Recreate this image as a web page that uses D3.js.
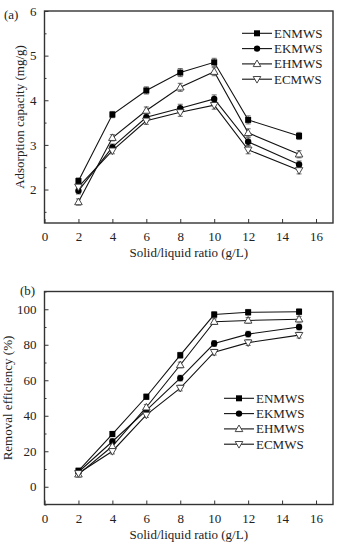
<!DOCTYPE html>
<html lang="en">
<head>
<meta charset="UTF-8">
<title>Solid/liquid ratio</title>
<script src="https://cdnjs.cloudflare.com/ajax/libs/d3/7.8.5/d3.min.js"></script>
<style>
  body { margin: 0; background: #fff; }
  svg text { font-family: "Liberation Serif", "Times New Roman", Times, serif; fill: #222; }
</style>
</head>
<body>
<div id="chart"></div>
<script>
// x values (g/L)
var ratios = [2, 4, 6, 8, 10, 12, 15];
var seriesNames = ['ENMWS', 'EKMWS', 'EHMWS', 'ECMWS'];
var seriesMarkers = ['square', 'circle', 'triUp', 'triDown'];

// panel (a) adsorption capacity (mg/g)
var capENMWS = [2.19, 3.68, 4.22, 4.62, 4.85, 3.56, 3.20];
var capEKMWS = [1.97, 2.95, 3.62, 3.82, 4.03, 3.07, 2.56];
var capEHMWS = [1.72, 3.16, 3.77, 4.29, 4.64, 3.27, 2.79];
var capECMWS = [2.06, 2.87, 3.54, 3.73, 3.89, 2.89, 2.43];
var capErr = [0.07, 0.07, 0.08, 0.09, 0.09, 0.09, 0.08];

// panel (b) removal efficiency (%)
var remENMWS = [9.0, 29.7, 50.7, 74.1, 97.0, 98.3, 98.6];
var remEKMWS = [8.3, 25.5, 43.0, 61.2, 80.7, 86.0, 90.0];
var remEHMWS = [7.0, 22.8, 44.8, 68.6, 93.0, 93.7, 94.4];
var remECMWS = [7.6, 20.0, 40.5, 55.6, 75.8, 81.2, 85.4];
var remErr = [1.5, 1.5, 1.5, 1.6, 1.6, 1.6, 1.6];

var xTicks = [0, 2, 4, 6, 8, 10, 12, 14, 16];
var capTicks = [2, 3, 4, 5, 6];
var capMinor = [1.5, 2.5, 3.5, 4.5, 5.5];
var remTicks = [0, 20, 40, 60, 80, 100];
var remMinor = [-10, 10, 30, 50, 70, 90, 110];

var svg = d3.select('#chart').append('svg')
  .attr('width', 343).attr('height', 550);

function marker(g, type, x, y) {
  if (type === 'square') {
    g.append('rect').attr('x', x - 3).attr('y', y - 3)
      .attr('width', 6).attr('height', 6).attr('fill', '#000');
  } else if (type === 'circle') {
    g.append('circle').attr('cx', x).attr('cy', y).attr('r', 3.2).attr('fill', '#000');
  } else if (type === 'triUp') {
    g.append('path').attr('d', d3.symbol(d3.symbolTriangle, 25)())
      .attr('transform', 'translate(' + x + ',' + (y + 0.5) + ')')
      .attr('fill', '#fff').attr('stroke', '#333').attr('stroke-width', 0.9);
  } else {
    g.append('path').attr('d', d3.symbol(d3.symbolTriangle, 25)())
      .attr('transform', 'translate(' + x + ',' + (y - 0.5) + ') rotate(180)')
      .attr('fill', '#fff').attr('stroke', '#333').attr('stroke-width', 0.9);
  }
}

function panel(opt) {
  var g = svg.append('g');
  var x = d3.scaleLinear().domain([0, 17]).range([44.5, 333]);
  var y = d3.scaleLinear().domain(opt.domain).range([opt.bottom, opt.top]);

  // inward ticks
  var xAxis = d3.axisBottom(x).tickValues(xTicks).tickSize(-4).tickPadding(9)
    .tickFormat(d3.format('d'));
  var yAxis = d3.axisLeft(y).tickValues(opt.ticks).tickSize(-4).tickPadding(8)
    .tickFormat(d3.format('d'));
  var gx = g.append('g').attr('transform', 'translate(0,' + opt.bottom + ')').call(xAxis);
  var gy = g.append('g').attr('transform', 'translate(44.5,0)').call(yAxis);
  g.append('g').attr('transform', 'translate(44.5,0)')
    .call(d3.axisLeft(y).tickValues(opt.minor).tickSize(-2).tickFormat(''))
    .select('.domain').remove();
  [gx, gy].forEach(function(a) {
    a.select('.domain').remove();
    a.attr('font-family', null);
    a.selectAll('text').style('font-size', '13px').attr('fill', '#222');
  });
  g.selectAll('.tick line').attr('stroke', '#333').attr('stroke-width', 1);

  // frame
  g.append('rect').attr('x', 44.5).attr('y', opt.top)
    .attr('width', 333 - 44.5).attr('height', opt.bottom - opt.top)
    .attr('fill', 'none').attr('stroke', '#333').attr('stroke-width', 1.4);

  var line = d3.line().x(function(d, i) { return x(ratios[i]); }).y(function(d) { return y(d); });

  opt.series.forEach(function(vals, s) {
    g.append('path').datum(vals).attr('d', line)
      .attr('fill', 'none').attr('stroke', '#111').attr('stroke-width', 1.1);
  });
  opt.series.forEach(function(vals, s) {
    vals.forEach(function(v, i) {
      var cx = x(ratios[i]), e = opt.err[i];
      g.append('path')
        .attr('d', 'M' + (cx - 2.5) + ',' + y(v + e) + 'H' + (cx + 2.5) +
          'M' + cx + ',' + y(v + e) + 'V' + y(v - e) +
          'M' + (cx - 2.5) + ',' + y(v - e) + 'H' + (cx + 2.5))
        .attr('stroke', '#444').attr('stroke-width', 0.8).attr('fill', 'none');
    });
  });
  opt.series.forEach(function(vals, s) {
    vals.forEach(function(v, i) {
      marker(g, seriesMarkers[s], x(ratios[i]), y(v));
    });
  });

  // legend
  var lg = g.append('g');
  seriesNames.forEach(function(name, s) {
    var ly = opt.legY + s * 15.3;
    lg.append('line').attr('x1', opt.legX).attr('x2', opt.legX + 30)
      .attr('y1', ly).attr('y2', ly).attr('stroke', '#111').attr('stroke-width', 1.1);
    marker(lg, seriesMarkers[s], opt.legX + 15, ly);
    lg.append('text').attr('x', opt.legX + 32).attr('y', ly + 4.5)
      .style('font-size', '13px').text(name);
  });

  // titles
  g.append('text').attr('x', (44.5 + 333) / 2).attr('y', opt.bottom + 34)
    .attr('text-anchor', 'middle').style('font-size', '13px')
    .text('Solid/liquid ratio (g/L)');
  g.append('text')
    .attr('transform', 'translate(' + opt.yTitleX + ',' + ((opt.top + opt.bottom) / 2) + ') rotate(-90)')
    .attr('text-anchor', 'middle').style('font-size', '13px').text(opt.yTitle);
  g.append('text').attr('x', opt.labX).attr('y', opt.labY)
    .style('font-size', '13px').text(opt.label);
}

panel({
  top: 11, bottom: 223, domain: [1.25, 6],
  ticks: capTicks, minor: capMinor, err: capErr,
  series: [capENMWS, capEKMWS, capEHMWS, capECMWS],
  legX: 242, legY: 33.3,
  yTitle: 'Adsorption capacity (mg/g)', yTitleX: 24,
  label: '(a)', labX: 4, labY: 19
});

panel({
  top: 291.5, bottom: 504.5, domain: [-10, 110],
  ticks: remTicks, minor: remMinor, err: remErr,
  series: [remENMWS, remEKMWS, remEHMWS, remECMWS],
  legX: 224, legY: 398.3,
  yTitle: 'Removal efficiency (%)', yTitleX: 12,
  label: '(b)', labX: 20, labY: 295
});
</script>
</body>
</html>
